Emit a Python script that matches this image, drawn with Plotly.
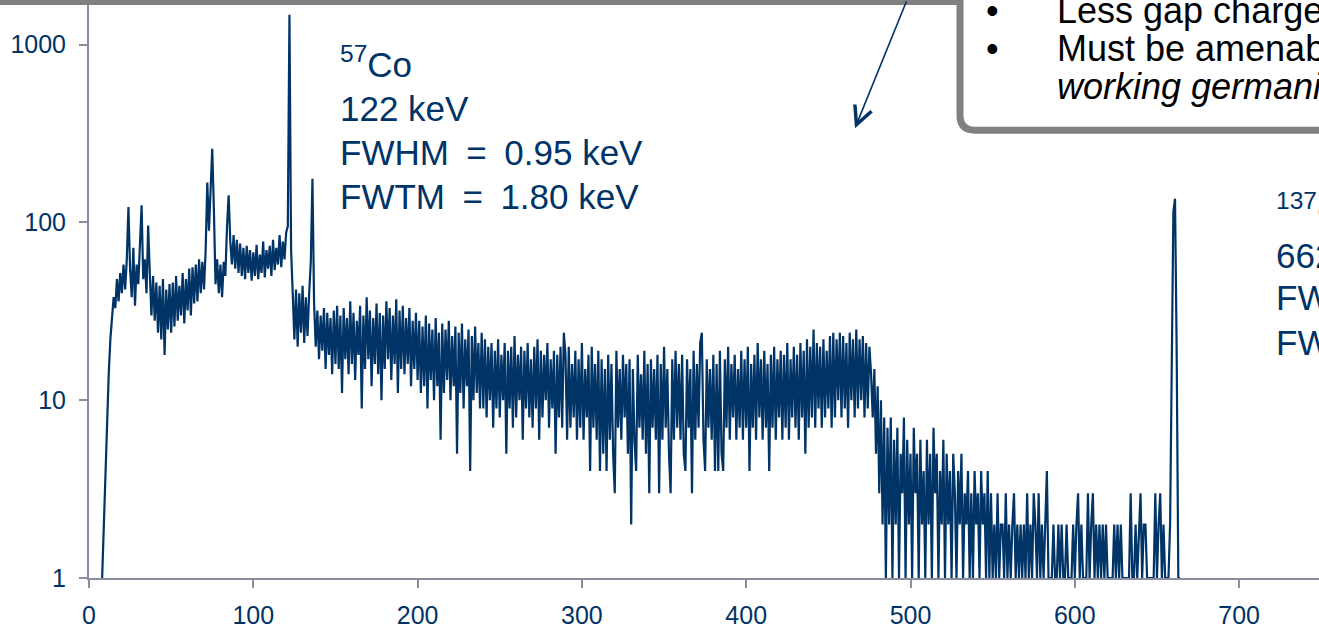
import plotly.graph_objects as go

# ---------------- data (counts per 1 keV bin) ----------------
start_008 = 8
counts_008_099 = [
    1, 2, 4, 9, 14, 22, 30, 38, 33, 48,
    36, 52, 40, 58, 42, 62, 122, 55, 38, 72,
    34, 58, 45, 70, 125, 48, 62, 40, 96, 52,
    30, 50, 28, 46, 24, 44, 22, 48, 18, 42,
    25, 45, 24, 46, 26, 50, 28, 44, 30, 52,
    27, 48, 32, 55, 30, 56, 35, 58, 36, 62,
    40, 60, 42, 70, 168, 90, 150, 260, 120, 45,
    62, 40, 58, 38, 60, 50, 95, 142, 78, 58,
    85, 55, 80, 52, 76, 50, 72, 48, 74, 52,
    70, 47,
]
start_100 = 100
counts_100_199 = [
    68, 50, 75, 48, 66, 52, 78, 49, 70, 55,
    74, 50, 80, 54, 72, 58, 85, 56, 78, 62,
    88, 95, 1472, 70, 40, 22, 42, 20, 40, 24,
    44, 21, 38, 23, 40, 60, 176, 35, 20, 32,
    17, 30, 19, 33, 15, 31, 18, 29, 14, 32,
    16, 34, 15, 30, 11, 33, 17, 29, 14, 36,
    16, 31, 13, 28, 18, 34, 9, 30, 15, 38,
    17, 32, 12, 29, 16, 35, 14, 31, 10, 30,
    15, 36, 17, 33, 13, 30, 16, 37, 11, 32,
    15, 34, 14, 29, 16, 33, 12, 28, 15, 31,
]
start_200 = 200
counts_200_299 = [
    13, 28, 11, 26, 12, 30, 9, 27, 13, 25,
    10, 29, 12, 24, 6, 27, 11, 25, 13, 28,
    10, 23, 12, 26, 5, 24, 11, 27, 9, 22,
    12, 25, 4, 23, 10, 26, 11, 21, 9, 24,
    9, 22, 8, 20, 10, 21, 7, 19, 9, 22,
    8, 18, 10, 21, 5, 19, 9, 20, 7, 23,
    8, 18, 10, 20, 6, 19, 9, 21, 8, 17,
    7, 20, 9, 22, 6, 19, 8, 18, 10, 21,
    7, 17, 9, 19, 5, 18, 8, 20, 7, 24,
    18, 6, 20, 7, 16, 8, 19, 6, 17, 7,
]
start_300 = 300
counts_300_399 = [
    21, 6, 15, 8, 18, 4, 20, 7, 16, 6,
    19, 4, 17, 5, 15, 4, 18, 6, 16, 5,
    3, 19, 7, 15, 6, 18, 8, 16, 5, 17,
    2, 15, 6, 4, 18, 7, 14, 6, 19, 5,
    16, 3, 17, 7, 15, 6, 18, 3, 16, 6,
    20, 7, 15, 5, 3, 17, 6, 19, 7, 16,
    6, 18, 5, 4, 17, 7, 15, 3, 19, 6,
    16, 7, 21, 24, 6, 4, 17, 7, 15, 6,
    18, 4, 16, 4, 19, 5, 4, 17, 7, 20,
    6, 16, 8, 18, 6, 15, 7, 19, 6, 17,
]
start_400 = 400
counts_400_499 = [
    7, 20, 4, 16, 7, 18, 6, 21, 8, 17,
    6, 19, 7, 16, 4, 18, 7, 20, 6, 17,
    8, 19, 6, 18, 7, 21, 6, 17, 8, 20,
    7, 18, 6, 21, 8, 19, 5, 22, 7, 20,
    8, 25, 7, 21, 9, 20, 7, 22, 8, 19,
    9, 23, 7, 24, 8, 22, 10, 24, 8, 23,
    9, 21, 7, 24, 10, 22, 8, 25, 9, 22,
    10, 23, 8, 21, 9, 20, 14, 8, 15, 5,
    12, 3, 10, 2, 8, 1, 7, 2, 8, 1,
    6, 2, 7, 1, 5, 3, 8, 1, 6, 2,
]
start_500 = 500
counts_500_599 = [
    5, 1, 7, 3, 5, 1, 6, 2, 4, 1,
    6, 2, 5, 1, 7, 3, 5, 1, 4, 2,
    6, 1, 5, 2, 4, 1, 5, 3, 1, 4,
    2, 5, 1, 3, 2, 4, 1, 3, 1, 4,
    2, 3, 1, 4, 2, 3, 1, 4, 1, 3,
    1, 2, 1, 3, 1, 2, 2, 1, 3, 1,
    2, 1, 2, 3, 1, 2, 1, 2, 1, 2,
    1, 3, 1, 2, 1, 3, 2, 1, 3, 1,
    2, 1, 2, 4, 1, 1, 1, 2, 1, 1,
    2, 1, 2, 1, 1, 2, 1, 1, 1, 2,
]
start_600 = 600
counts_600_664 = [
    1, 2, 3, 1, 2, 1, 1, 1, 3, 1,
    2, 3, 1, 2, 1, 2, 1, 2, 1, 2,
    1, 1, 1, 1, 2, 1, 2, 1, 2, 1,
    1, 1, 1, 1, 3, 1, 1, 2, 1, 2,
    3, 1, 2, 2, 1, 1, 1, 1, 1, 3,
    1, 2, 3, 1, 2, 1, 1, 1, 2, 14,
    115, 136, 19, 1, 1,
]

x_tick_values = [0, 100, 200, 300, 400, 500, 600, 700, 800]
y_tick_values = [1, 10, 100, 1000]
y_tick_labels = ["1", "10", "100", "1000"]

EN = "\u2002"
co_lines = ["<sup>57</sup>Co", "122 keV",
            f"FWHM{EN}={EN}0.95 keV", f"FWTM{EN}={EN}1.80 keV"]
cs_lines = ["<sup>137</sup>Cs", "662 keV",
            f"FWHM{EN}={EN}1.43 keV", f"FWTM{EN}={EN}2.61 keV"]
box_lines = ["Less gap charge trapping",
             "Must be amenable to mass production of",
             "<i>working germanium detectors</i>"]

# ---------------- assemble series ----------------
segments = [
    (start_008, counts_008_099), (start_100, counts_100_199),
    (start_200, counts_200_299), (start_300, counts_300_399),
    (start_400, counts_400_499), (start_500, counts_500_599),
    (start_600, counts_600_664),
]
energy, counts = [], []
for s, c in segments:
    energy += list(range(s, s + len(c)))
    counts += c

# ---------------- layout geometry ----------------
W, H = 1319, 629
ML, MR, MT, MB = 89, 0, 5, 47
PW, PH = W - ML - MR, H - MT - MB
KEV_PER_PX = 100 / 164.3
XMAX = PW * KEV_PER_PX
YTOP = PH / 179.0  # decades visible


def X(px):
    return (px - ML) / PW


def Y(py):
    return (H - MB - py) / PH


NAVY = "#003366"
AXIS = "#8c8ca0"
FONT = "Liberation Sans, Arial, sans-serif"

fig = go.Figure()
fig.add_trace(go.Scatter(x=energy, y=counts, mode="lines",
                         line=dict(color=NAVY, width=2.2),
                         hoverinfo="skip", showlegend=False))

fig.update_layout(
    width=W, height=H,
    margin=dict(l=ML, r=MR, t=MT, b=MB, pad=0),
    paper_bgcolor="white", plot_bgcolor="white",
    showlegend=False,
    font=dict(family=FONT, color=NAVY, size=25),
)
fig.update_xaxes(range=[0, XMAX], tickvals=x_tick_values, showgrid=False,
                 zeroline=False, showline=True, linecolor=AXIS, linewidth=2,
                 ticks="outside", ticklen=8, tickwidth=2, tickcolor=AXIS,
                 tickfont=dict(size=25, color=NAVY, family=FONT),
                 layer="above traces", ticklabelstandoff=6)
fig.update_yaxes(type="log", range=[0, YTOP], tickvals=y_tick_values,
                 ticktext=y_tick_labels, showgrid=False, zeroline=False,
                 showline=True, linecolor=AXIS, linewidth=2,
                 ticks="outside", ticklen=8, tickwidth=2, tickcolor=AXIS,
                 tickfont=dict(size=25, color=NAVY, family=FONT),
                 layer="above traces", ticklabelstandoff=8)

# ---------------- callout box shapes ----------------
fig.add_shape(type="rect", xref="paper", yref="paper",
              x0=X(-5), x1=X(961), y0=Y(5), y1=Y(-5),
              fillcolor="#808080", line=dict(width=0), layer="above")
path = (f"M {X(960)},{Y(-12)} L {X(960)},{Y(116)} "
        f"Q {X(960)},{Y(131)} {X(975)},{Y(131)} "
        f"L {X(1335)},{Y(131)} L {X(1335)},{Y(-12)} Z")
fig.add_shape(type="path", xref="paper", yref="paper", path=path,
              fillcolor="white", line=dict(color="#808080", width=7),
              layer="above")

# ---------------- annotations ----------------
TS = 35


def text_line(txt, px, baseline, size=TS, color=NAVY):
    fig.add_annotation(text=txt, xref="paper", yref="paper",
                       x=X(px), y=Y(baseline + 0.212 * size + 1),
                       xanchor="left", yanchor="bottom", showarrow=False,
                       font=dict(size=size, color=color, family=FONT))


for txt, bl in zip(co_lines, [78, 122, 167, 211]):
    text_line(txt, 338, bl)
for txt, bl in zip(cs_lines, [226, 270, 313, 358]):
    text_line(txt, 1274, bl)

for i, (txt, bl) in enumerate(zip(box_lines, [25, 63, 101])):
    text_line(txt, 1055, bl, size=36, color="black")
    if i < 2:
        text_line("•", 984, bl, size=36, color="black")

# arrow
fig.add_annotation(x=X(855), y=Y(129), xref="paper", yref="paper",
                   ax=52, ay=-140, axref="pixel", ayref="pixel",
                   text="", showarrow=True, arrowhead=5, arrowsize=2.2,
                   arrowwidth=1.6, arrowcolor=NAVY)

fig.write_html("out.html",
               config={"displayModeBar": False},
               post_script="document.body.style.margin='0px';"
                           "document.body.style.overflow='hidden';")
